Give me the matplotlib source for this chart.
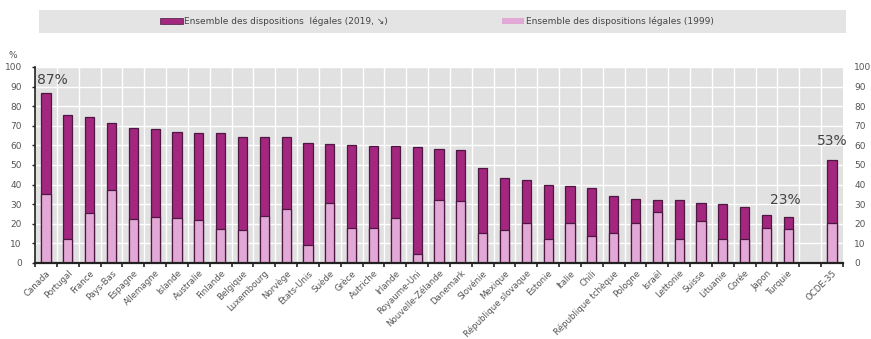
import matplotlib
matplotlib.use("Agg")
import matplotlib.pyplot as plt
from matplotlib.patches import Rectangle
import numpy as np

countries = ["Canada", "Portugal", "France", "Pays-Bas", "Espagne", "Allemagne", "Islande",
             "Australie", "Finlande", "Belgique", "Luxembourg", "Norvège", "États-Unis", "Suède",
             "Grèce", "Autriche", "Irlande", "Royaume-Uni", "Nouvelle-Zélande", "Danemark",
             "Slovénie", "Mexique", "République slovaque", "Estonie", "Italie", "Chili",
             "République tchèque", "Pologne", "Israël", "Lettonie", "Suisse", "Lituanie",
             "Corée", "Japon", "Turquie", "", "OCDE-35"]
v2019 = [86.5, 75.7, 74.5, 71.4, 68.9, 68.4, 66.8, 66.5, 66.5, 64.3, 64.3, 64.4, 61.4, 60.5,
         60.0, 59.7, 59.7, 59.1, 58.3, 57.6, 48.5, 43.4, 42.6, 39.7, 39.3, 38.3, 34.4, 32.6,
         32.0, 32.0, 30.6, 30.3, 28.5, 24.3, 23.3, np.nan, 52.5]
v1999 = [35.4, 12.2, 25.5, 37.0, 22.6, 23.5, 23.0, 21.7, 17.3, 17.0, 23.8, 27.5, 9.2, 30.6,
         17.8, 17.8, 23.2, 4.6, 32.0, 31.4, 15.2, 16.9, 20.3, 12.3, 20.3, 14.0, 15.2, 20.3,
         26.0, 12.1, 21.5, 12.1, 12.1, 18.1, 17.4, np.nan, 20.3]
yticks = [0, 10, 20, 30, 40, 50, 60, 70, 80, 90, 100]
legend_labels = ["Ensemble des dispositions  légales (2019, ↘)", "Ensemble des dispositions légales (1999)"]
annotations = [("87%", 0, 87), ("23%", 34, 23), ("53%", 36, 53)]

dark = "#a3267f"
edge = "#4e1742"
light = "#e2a9d6"
bg = "#e1e1e1"
txt = "#555555"

plt.rcParams['font.family'] = ['Liberation Sans Narrow', 'DejaVu Sans']

fig = plt.figure(figsize=(8.71, 3.39), dpi=100)
ax = fig.add_axes([35/871, 1-263/339, (843-35)/871, (263-67)/339])
ax.set_facecolor(bg)

x = np.arange(len(countries))
ax.bar(x, v2019, width=0.42, color=dark, edgecolor=edge, linewidth=0.9, zorder=3)
ax.bar(x, v1999, width=0.42, color=light, edgecolor=edge, linewidth=0.9, zorder=4)

ax.set_xlim(-0.5, len(countries) - 0.5)
ax.set_ylim(0, 100)
ax.set_yticks(yticks)
ax.set_yticklabels([str(t) for t in yticks], fontsize=6.5, color=txt)
ax.tick_params(axis='y', length=2.5, width=1, color="#222222", pad=7)

ax.set_xticks(x)
ax.set_xticklabels(countries, rotation=45, ha='right', rotation_mode='anchor',
                   fontsize=6.2, color=txt)
ax.tick_params(axis='x', length=0, pad=4)
ax.set_xticks(np.arange(-0.5, len(countries)), minor=True)
ax.tick_params(axis='x', which='minor', length=3, width=1.2, color="#222222", direction='out')

# grid
for b in np.arange(0.5, len(countries) - 0.5):
    ax.axvline(b, color='white', lw=1.0, zorder=1)
for t in yticks[1:]:
    ax.axhline(t, color='white', lw=1.0, zorder=1)

for s in ['top', 'right']:
    ax.spines[s].set_visible(False)
ax.spines['left'].set_color("#222222")
ax.spines['left'].set_linewidth(1.2)
ax.spines['bottom'].set_color("#222222")
ax.spines['bottom'].set_linewidth(1.6)
ax.spines['bottom'].set_zorder(5)

# right tick labels
ax2 = ax.twinx()
ax2.set_ylim(0, 100)
ax2.set_yticks(yticks)
ax2.set_yticklabels([str(t) for t in yticks], fontsize=6.5, color=txt)
ax2.tick_params(axis='y', length=0, pad=8)
for s in ax2.spines.values():
    s.set_visible(False)

# annotations
for label, xi, val in annotations:
    if xi == 0:
        ax.text(-0.42, 97, label, fontsize=10, color="#444444", ha='left', va='top',
                family=['DejaVu Sans'], zorder=6)
    else:
        ax.text(xi - (0.15 if xi == 34 else 0), val + 5.5, label, fontsize=10, color="#444444",
                ha='center', va='bottom', family=['DejaVu Sans'], zorder=6)

# % label
fig.text(8/871, 1-55/339, "%", fontsize=6.5, color=txt, ha='left', va='center')

# legend box
fig.patches.append(Rectangle((39/871, 1-33/339), (846-39)/871, 23/339,
                             transform=fig.transFigure, facecolor="#e4e4e4", edgecolor='none'))
fig.patches.append(Rectangle((160/871, 1-24/339), 23/871, 6/339,
                             transform=fig.transFigure, facecolor=dark, edgecolor=edge, lw=0.5))
fig.patches.append(Rectangle((502/871, 1-24/339), 22/871, 6/339,
                             transform=fig.transFigure, facecolor=light, edgecolor='none'))
fig.text(184/871, 1-21/339, legend_labels[0], fontsize=6.5, color="#444444", ha='left', va='center',
         family=['Liberation Sans Narrow', 'DejaVu Sans'])
fig.text(526/871, 1-21/339, legend_labels[1], fontsize=6.5, color="#444444", ha='left', va='center',
         family=['Liberation Sans Narrow', 'DejaVu Sans'])

fig.savefig("out.png", dpi=100, facecolor='white')
